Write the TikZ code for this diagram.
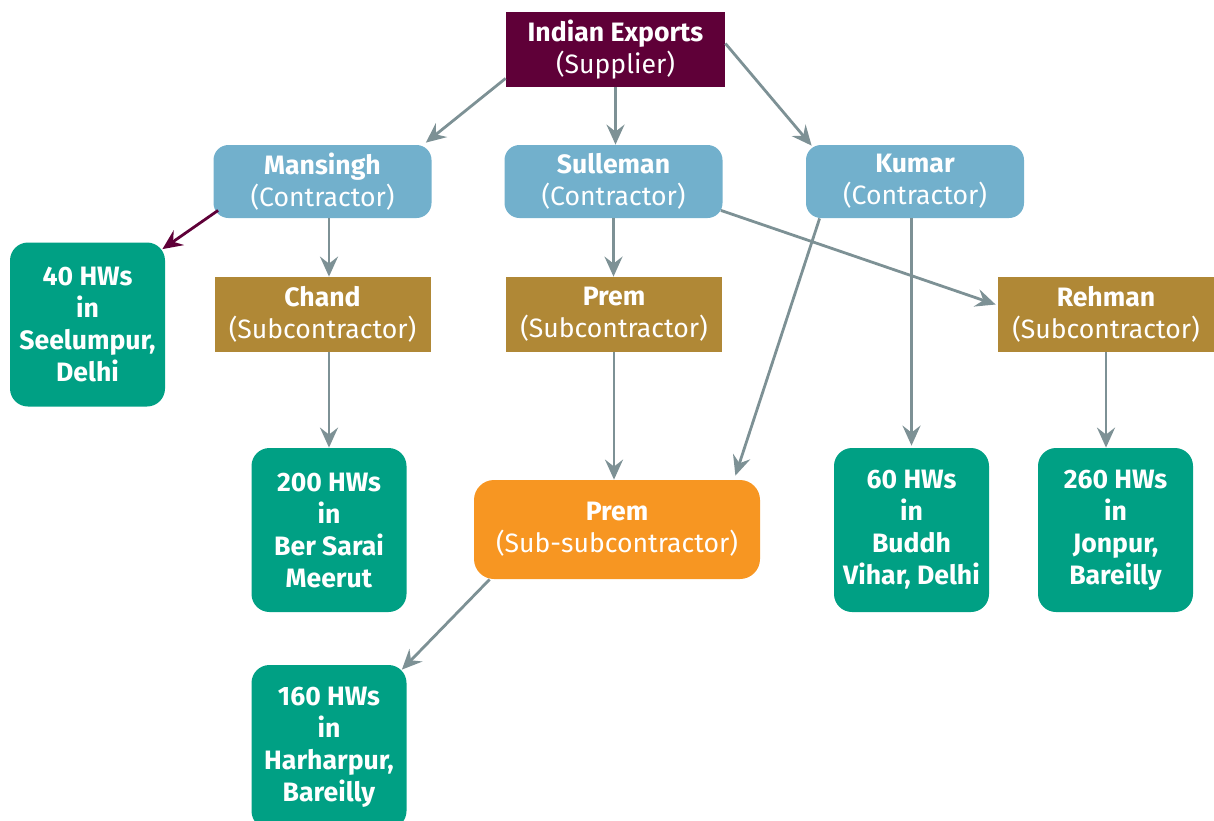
\documentclass[tikz,border=0pt]{standalone}
\usepackage{fontspec}
\setmainfont{Fira Sans}
\usepackage{xcolor}
\usepackage{tikz}
\usetikzlibrary{arrows.meta, calc, positioning}
\definecolor{supred}{HTML}{5F0038}
\definecolor{conblue}{HTML}{72B0CC}
\definecolor{subgold}{HTML}{B08836}
\definecolor{hwgreen}{HTML}{00A084}
\definecolor{subsubor}{HTML}{F79622}
\definecolor{linkgray}{HTML}{7D9195}
\tikzset{
    base/.style={text=white, align=center, inner sep=0pt, font=\fontsize{13.3}{16}\selectfont},
    supplier/.style={base, fill=supred, minimum width=109.5pt, minimum height=37.5pt},
    contractor/.style={base, fill=conblue, rounded corners=7.5pt, minimum width=109pt, minimum height=36.5pt},
    subcon/.style={base, fill=subgold, minimum width=108pt, minimum height=37.5pt},
    workers/.style={base, fill=hwgreen, rounded corners=9pt, minimum width=77.5pt, minimum height=82pt},
    subsub/.style={base, fill=subsubor, rounded corners=10pt, minimum width=143pt, minimum height=49.5pt},
    link/.style={draw=linkgray, line width=1.4pt, -{Stealth[length=10pt, width=9pt, inset=3.5pt]}},
}

\begin{document}
\begin{tikzpicture}[x=0.5pt, y=-0.5pt]
    \useasboundingbox (0,0) rectangle (1214,820);
    \begin{scope}
    \clip (0,0) rectangle (1214,820);
    % supplier and contractors
    \node[supplier] (sup) at (615.5, 49.5) {\textbf{Indian Exports}\\(Supplier)};
    \node[contractor] (mans) at (322.5, 181.5) {\textbf{Mansingh}\\(Contractor)};
    \node[contractor] (sull) at (613.5, 181.5) {\textbf{Sulleman}\\(Contractor)};
    \node[contractor] (kum) at (915, 181.5) {\textbf{Kumar}\\(Contractor)};
    % subcontractors
    \node[subcon] (chand) at (322.5, 314.5) {\textbf{Chand}\\(Subcontractor)};
    \node[subcon] (prems) at (614, 314.5) {\textbf{Prem}\\(Subcontractor)};
    \node[subcon] (rehman) at (1106, 314.5) {\textbf{Rehman}\\(Subcontractor)};
    \node[subsub] (premss) at (617, 529.5) {\textbf{Prem}\\(Sub-subcontractor)};
    % home workers
    \node[workers] (hw40) at (87.5, 324.5) {\textbf{40 HWs}\\\textbf{in}\\\textbf{Seelumpur,}\\\textbf{Delhi}};
    \node[workers] (hw200) at (329, 530) {\textbf{200 HWs}\\\textbf{in}\\\textbf{Ber Sarai}\\\textbf{Meerut}};
    \node[workers] (hw60) at (911.5, 530) {\textbf{60 HWs}\\\textbf{in}\\\textbf{Buddh}\\\textbf{Vihar, Delhi}};
    \node[workers] (hw260) at (1115.5, 530) {\textbf{260 HWs}\\\textbf{in}\\\textbf{Jonpur,}\\\textbf{Bareilly}};
    \node[workers] (hw160) at (329, 747) {\textbf{160 HWs}\\\textbf{in}\\\textbf{Harharpur,}\\\textbf{Bareilly}};
    \end{scope}
    % links
    \draw[link] ($(sup.south west)+(0,-9)$) -- ($(mans.north east)+(-6,-2)$);
    \draw[link] (sup.south) -- (sup.south |- sull.north);
    \draw[link] ($(sup.east)+(0,-6)$) -- ($(kum.north west)+(6,1)$);
    \draw[link, draw=supred] ($(mans.south west)+(5,-8)$) -- ($(hw40.north east)+(-3,7)$);
    \draw[link] (mans.south -| hw200.north) -- (chand.north -| hw200.north);
    \draw[link] (chand.south -| hw200.north) -- (hw200.north);
    \draw[link] (sull.south) -- (sull.south |- prems.north);
    \draw[link] ($(sull.south east)+(-2,-8)$) -- ($(rehman.west)+(-2,-10)$);
    \draw[link] ($(kum.south west)+(14,0)$) -- ($(premss.north east)+(-25,-4)$);
    \draw[link] (kum.south -| hw60.north) -- ($(hw60.north)+(0,-2)$);
    \draw[link] (prems.south) -- (prems.south |- premss.north);
    \draw[link] (rehman.south) -- (rehman.south |- hw260.north);
    \draw[link] ($(premss.south west)+(16,0)$) -- ($(hw160.north east)+(-5,5)$);
\end{tikzpicture}
\end{document}
